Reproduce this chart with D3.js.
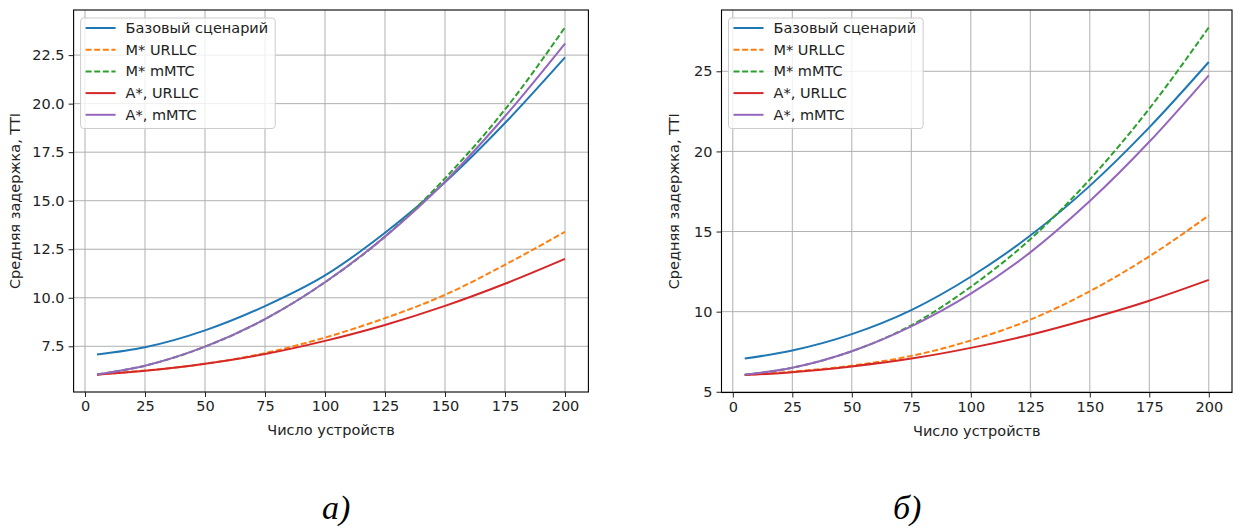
<!DOCTYPE html>
<html>
<head>
<meta charset="utf-8">
<script src="https://cdn.jsdelivr.net/npm/d3@7"></script>
<style>
  body { margin: 0; background: #fff; }
  svg { display: block; font-family: "DejaVu Sans", sans-serif; }
</style>
</head>
<body>
<svg id="canvas" width="1240" height="529"></svg>
<script>
// Data
let devices = [5, 25, 50, 75, 100, 125, 150, 175, 200]

let seriesNames = ['Базовый сценарий', 'M* URLLC', 'M* mMTC', 'A*, URLLC', 'A*, mMTC']
let seriesColors = ['#1f77b4', '#ff7f0e', '#2ca02c', '#d62728', '#9467bd']
let seriesDashed = [false, true, true, false, false]

// panel a)
let baseA    = [7.08, 7.45, 8.32, 9.57, 11.15, 13.35, 15.95, 19.0, 22.38]
let mUrllcA  = [6.05, 6.25, 6.6, 7.15, 7.95, 8.95, 10.15, 11.7, 13.4]
let mMmtcA   = [6.05, 6.5, 7.48, 8.9, 10.8, 13.15, 16.15, 19.7, 23.93]
let aUrllcA  = [6.04, 6.24, 6.6, 7.1, 7.78, 8.6, 9.58, 10.72, 12.0]
let aMmtcA   = [6.05, 6.5, 7.48, 8.9, 10.8, 13.15, 15.98, 19.35, 23.1]

// panel б)
let baseB    = [7.07, 7.58, 8.6, 10.1, 12.18, 14.75, 17.85, 21.5, 25.58]
let mUrllcB  = [6.05, 6.26, 6.63, 7.24, 8.2, 9.5, 11.27, 13.45, 16.0]
let mMmtcB   = [6.06, 6.5, 7.53, 9.15, 11.55, 14.52, 18.25, 22.67, 27.74]
let aUrllcB  = [6.04, 6.22, 6.58, 7.07, 7.74, 8.56, 9.56, 10.68, 11.98]
let aMmtcB   = [6.06, 6.5, 7.53, 9.08, 11.12, 13.7, 16.9, 20.6, 24.75]

let xTicks = [0, 25, 50, 75, 100, 125, 150, 175, 200]
let yTicksA = [7.5, 10.0, 12.5, 15.0, 17.5, 20.0, 22.5]
let yTicksB = [5, 10, 15, 20, 25]

let xLabel = 'Число устройств'
let yLabel = 'Средняя задержка, TTI'

let canvas = d3.select('#canvas')
let fontSize = '14.5px'

let drawPanel = (box, series, yTicks, yFmt, caption, captionX) => {
    // matplotlib style 5% margins
    let xExt = d3.extent(devices)
    let xPad = (xExt[1] - xExt[0]) * 0.05
    let allY = series.flat()
    let yExt = d3.extent(allY)
    let yPad = (yExt[1] - yExt[0]) * 0.05

    let x = d3.scaleLinear().domain([xExt[0] - xPad, xExt[1] + xPad]).range([box.left, box.right])
    let y = d3.scaleLinear().domain([yExt[0] - yPad, yExt[1] + yPad]).range([box.bottom, box.top])

    let g = canvas.append('g')

    // grid
    g.append('g').selectAll('line').data(xTicks).enter().append('line')
        .attr('x1', d => x(d)).attr('x2', d => x(d))
        .attr('y1', box.top).attr('y2', box.bottom)
        .style('stroke', '#b0b0b0').style('stroke-width', 1)
    g.append('g').selectAll('line').data(yTicks).enter().append('line')
        .attr('x1', box.left).attr('x2', box.right)
        .attr('y1', d => y(d)).attr('y2', d => y(d))
        .style('stroke', '#b0b0b0').style('stroke-width', 1)

    // lines
    let line = d3.line().x((d, i) => x(devices[i])).y(d => y(d)).curve(d3.curveMonotoneX)
    series.forEach((s, k) => {
        g.append('path')
            .attr('d', line(s))
            .attr('fill', 'none')
            .style('stroke', seriesColors[k])
            .style('stroke-width', 2)
            .style('stroke-dasharray', seriesDashed[k] ? '6,2.6' : null)
    })

    // frame
    g.append('rect')
        .attr('x', box.left).attr('y', box.top)
        .attr('width', box.right - box.left).attr('height', box.bottom - box.top)
        .attr('fill', 'none').style('stroke', '#000').style('stroke-width', 1.1)

    // axes
    let xAxis = d3.axisBottom(x).tickValues(xTicks).tickSize(5).tickPadding(4).tickSizeOuter(0)
    let yAxis = d3.axisLeft(y).tickValues(yTicks).tickFormat(yFmt).tickSize(5).tickPadding(4).tickSizeOuter(0)
    let gx = g.append('g').attr('transform', `translate(0,${box.bottom})`).call(xAxis)
    let gy = g.append('g').attr('transform', `translate(${box.left},0)`).call(yAxis)
    ;[gx, gy].forEach(a => {
        a.select('.domain').remove()
        a.selectAll('text').style('font-size', fontSize).style('font-family', '"DejaVu Sans"').attr('fill', '#222')
        a.selectAll('line').style('stroke', '#222')
    })

    // axis labels
    g.append('text')
        .attr('x', (box.left + box.right) / 2).attr('y', box.bottom + 43)
        .attr('text-anchor', 'middle').style('font-size', fontSize).attr('fill', '#222')
        .text(xLabel)
    g.append('text')
        .attr('transform', `translate(${box.left - box.yLabelOff},${(box.top + box.bottom) / 2}) rotate(-90)`)
        .attr('text-anchor', 'middle').style('font-size', fontSize).attr('fill', '#222')
        .text(yLabel)

    // legend
    let lg = g.append('g')
    let lx = box.left + 7, ly = 18, rowH = 21.7
    let bg = lg.append('rect')
    let texts = []
    seriesNames.forEach((name, k) => {
        let cy = ly + 10 + k * rowH
        lg.append('line')
            .attr('x1', lx + 5).attr('x2', lx + 35).attr('y1', cy).attr('y2', cy)
            .style('stroke', seriesColors[k]).style('stroke-width', 2)
            .style('stroke-dasharray', seriesDashed[k] ? '6,2.6' : null)
        let t = lg.append('text')
            .attr('x', lx + 45).attr('y', cy).attr('dy', '0.35em')
            .style('font-size', fontSize).attr('fill', '#222')
            .text(name)
        texts.push(t)
    })
    let maxW = d3.max(texts, t => t.node().getComputedTextLength())
    bg.attr('x', lx).attr('y', ly).attr('rx', 3)
        .attr('width', 45 + maxW + 7).attr('height', rowH * 5 + 2)
        .attr('fill', 'white').attr('fill-opacity', 0.8)
        .style('stroke', '#cccccc').style('stroke-width', 1)

    // caption
    canvas.append('text')
        .attr('x', captionX).attr('y', 519)
        .style('font-family', '"Liberation Serif", serif').style('font-style', 'italic')
        .style('font-size', '34px').attr('fill', '#000')
        .text(caption)
}

drawPanel({left: 73.6, right: 588.4, top: 10, bottom: 392, yLabelOff: 54},
    [baseA, mUrllcA, mMmtcA, aUrllcA, aMmtcA], yTicksA, d3.format('.1f'), 'а)', 322)
drawPanel({left: 721.5, right: 1232, top: 10, bottom: 392.5, yLabelOff: 43},
    [baseB, mUrllcB, mMmtcB, aUrllcB, aMmtcB], yTicksB, d3.format('d'), 'б)', 893)
</script>
</body>
</html>
